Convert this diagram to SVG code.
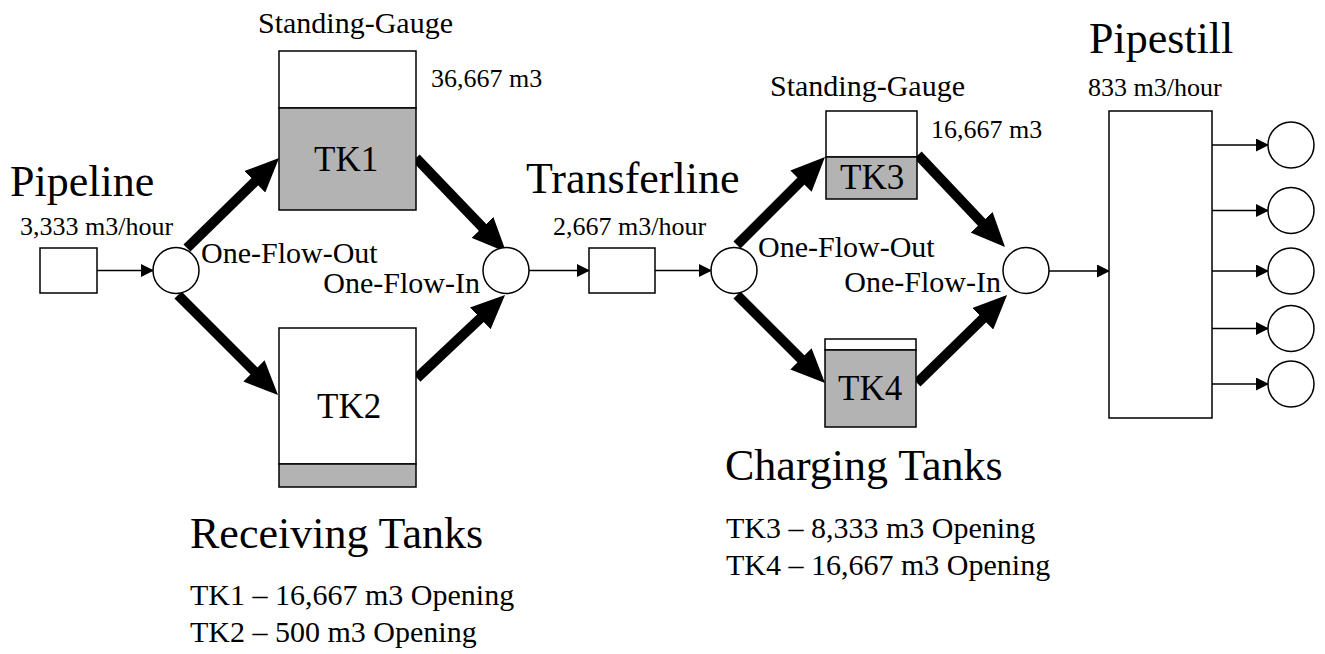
<svg xmlns="http://www.w3.org/2000/svg" width="1325" height="654" viewBox="0 0 1325 654">
<style>
text{font-family:"Liberation Serif","Times New Roman",serif;fill:#000}
.big{font-size:44px}
.med{font-size:30px}
.sm{font-size:26px}
.tk{font-size:35px}
.box{fill:#fff;stroke:#000;stroke-width:1.5}
.fill{fill:#b3b3b3;stroke:#000;stroke-width:1.5}
.thin{stroke:#000;stroke-width:1.5;fill:none;marker-end:url(#ah)}
.thick{stroke:#000;stroke-width:10;fill:none;marker-end:url(#bh)}
</style>
<defs>
<marker id="ah" markerUnits="userSpaceOnUse" markerWidth="13" markerHeight="13" viewBox="0 0 13 13" refX="12" refY="6.5" orient="auto"><path d="M0,0 L13,6.5 L0,13 z" fill="#000"/></marker>
<marker id="bh" markerUnits="userSpaceOnUse" markerWidth="34" markerHeight="30" viewBox="0 0 34 30" refX="4" refY="15" orient="auto"><path d="M0,0 L34,15 L0,30 z" fill="#000"/></marker>
</defs>
<rect width="1325" height="654" fill="#fff"/>

<g id="connectors">
<line class="thin" x1="97" y1="270.5" x2="153" y2="270.5"/>
<line class="thin" x1="529" y1="270.5" x2="589" y2="270.5"/>
<line class="thin" x1="655" y1="270.5" x2="711" y2="270.5"/>
<line class="thin" x1="1049" y1="271" x2="1109" y2="271"/>
<line class="thin" x1="1212" y1="145" x2="1268" y2="145"/>
<line class="thin" x1="1212" y1="210.5" x2="1268" y2="210.5"/>
<line class="thin" x1="1212" y1="271" x2="1268" y2="271"/>
<line class="thin" x1="1212" y1="328.5" x2="1268" y2="328.5"/>
<line class="thin" x1="1212" y1="384" x2="1268" y2="384"/>
<line class="thick" x1="187" y1="248" x2="257.6" y2="179"/>
<line class="thick" x1="416" y1="158" x2="485.3" y2="230.3"/>
<line class="thick" x1="178" y1="295" x2="256.8" y2="373.8"/>
<line class="thick" x1="417" y1="378" x2="483.2" y2="315.6"/>
<line class="thick" x1="737" y1="245" x2="803.8" y2="178.2"/>
<line class="thick" x1="918" y1="155" x2="984.4" y2="225.2"/>
<line class="thick" x1="737" y1="295" x2="803.8" y2="361.8"/>
<line class="thick" x1="917" y1="383" x2="985.6" y2="316"/>
</g>

<g id="pipeline">
<text class="big" x="10" y="196">Pipeline</text>
<text class="sm" x="20" y="235">3,333 m3/hour</text>
<rect class="box" x="40" y="248" width="57" height="45"/>
</g>

<g id="split1">
<circle class="box" cx="176" cy="270.5" r="23"/>
<text class="med" x="201" y="263">One-Flow-Out</text>
</g>

<g id="tk1">
<text class="med" x="258" y="33">Standing-Gauge</text>
<rect class="box" x="279" y="51" width="137" height="57"/>
<rect class="fill" x="279" y="108" width="137" height="102"/>
<text class="tk" x="314" y="171">TK1</text>
<text class="sm" x="431" y="87">36,667 m3</text>
</g>

<g id="tk2">
<rect class="box" x="279" y="328" width="137" height="136"/>
<rect class="fill" x="279" y="464" width="137" height="23"/>
<text class="tk" x="317" y="418">TK2</text>
</g>

<g id="join1">
<circle class="box" cx="506" cy="270.5" r="23"/>
<text class="med" x="480" y="293" text-anchor="end">One-Flow-In</text>
</g>

<g id="receiving">
<text class="big" x="190" y="548">Receiving Tanks</text>
<text class="med" x="190" y="605">TK1 – 16,667 m3 Opening</text>
<text class="med" x="190" y="642">TK2 – 500 m3 Opening</text>
</g>

<g id="transferline">
<text class="big" x="526" y="193">Transferline</text>
<text class="sm" x="553" y="235">2,667 m3/hour</text>
<rect class="box" x="589" y="248" width="66" height="45"/>
</g>

<g id="split2">
<circle class="box" cx="734" cy="270.5" r="23"/>
<text class="med" x="758" y="257">One-Flow-Out</text>
</g>

<g id="tk3">
<text class="med" x="770" y="96">Standing-Gauge</text>
<rect class="box" x="826" y="111" width="91" height="46"/>
<rect class="fill" x="826" y="157" width="91" height="42"/>
<text class="tk" x="840" y="189">TK3</text>
<text class="sm" x="931" y="138">16,667 m3</text>
</g>

<g id="tk4">
<rect class="box" x="825" y="339" width="91" height="11"/>
<rect class="fill" x="825" y="350" width="91" height="77"/>
<text class="tk" x="838" y="400">TK4</text>
</g>

<g id="join2">
<circle class="box" cx="1026" cy="270.5" r="23"/>
<text class="med" x="1001" y="292" text-anchor="end">One-Flow-In</text>
</g>

<g id="charging">
<text class="big" x="725" y="480">Charging Tanks</text>
<text class="med" x="726" y="538">TK3 – 8,333 m3 Opening</text>
<text class="med" x="726" y="575">TK4 – 16,667 m3 Opening</text>
</g>

<g id="pipestill">
<text class="big" x="1089" y="53">Pipestill</text>
<text class="sm" x="1088" y="96">833 m3/hour</text>
<rect class="box" x="1109" y="111" width="103" height="307"/>
</g>

<g id="outputs">
<circle class="box" cx="1291" cy="145" r="23"/>
<circle class="box" cx="1291" cy="210.5" r="23"/>
<circle class="box" cx="1291" cy="271" r="23"/>
<circle class="box" cx="1291" cy="328.5" r="23"/>
<circle class="box" cx="1291" cy="384" r="23"/>
</g>
</svg>
